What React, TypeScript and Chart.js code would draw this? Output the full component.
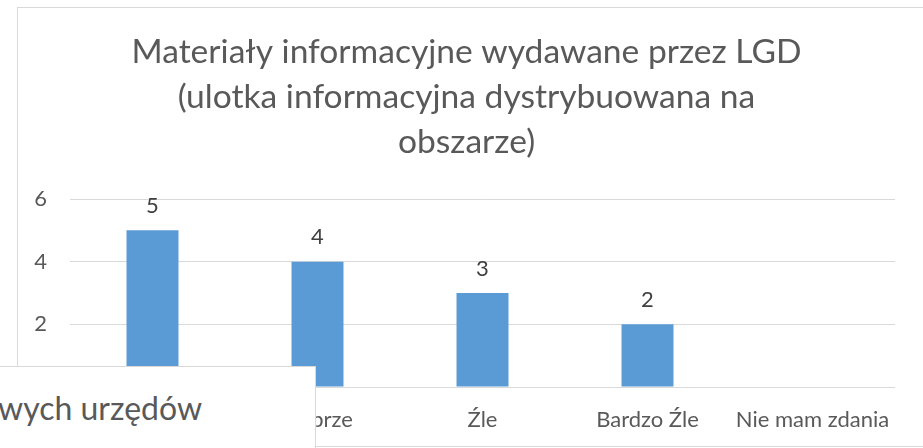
import React, { useEffect, useRef } from "react";
import { Chart, registerables } from "chart.js";

Chart.register(...registerables);

const titleLines = [
  "Materiały informacyjne wydawane przez LGD",
  "(ulotka informacyjna dystrybuowana na",
  "obszarze)",
];
const categories = ["Bardzo dobrze", "Dobrze", "Źle", "Bardzo Źle", "Nie mam zdania"];
const values = [5, 4, 3, 2, 0];
const yTicks = [0, 2, 4, 6];
const overlayText = "wych urzędów";

const FONT = "Lato, 'Open Sans', sans-serif";

const valueLabels = {
  id: "valueLabels",
  afterDatasetsDraw(chart: any) {
    const ctx = chart.ctx;
    const meta = chart.getDatasetMeta(0);
    ctx.save();
    ctx.font = `22px ${FONT}`;
    ctx.fillStyle = "#404040";
    ctx.textAlign = "center";
    ctx.textBaseline = "alphabetic";
    meta.data.forEach((bar: any, i: number) => {
      const v = values[i];
      if (!v) return;
      ctx.fillText(String(v), bar.x, bar.y - 17.5);
    });
    ctx.restore();
  },
};

export default function App() {
  const ref = useRef<HTMLCanvasElement | null>(null);

  useEffect(() => {
    document.body.style.margin = "0";
    const canvas = ref.current;
    if (!canvas) return;
    const chart = new Chart(canvas, {
      type: "bar",
      data: {
        labels: categories,
        datasets: [
          {
            data: values,
            backgroundColor: "#5b9bd5",
            borderWidth: 0,
            barPercentage: 0.315,
            categoryPercentage: 1,
          },
        ],
      },
      options: {
        responsive: false,
        animation: false,
        events: [],
        layout: { padding: { left: 38, right: 28, top: 0, bottom: 0 } },
        plugins: {
          legend: { display: false },
          tooltip: { enabled: false },
          title: {
            display: true,
            text: titleLines,
            color: "#595959",
            font: { family: FONT, size: 33.6, weight: "normal", lineHeight: 45 / 33.6 },
            padding: { top: 30, bottom: 34 },
          },
        },
        scales: {
          x: {
            grid: { display: false, drawTicks: false },
            border: { display: false },
            afterFit: (scale: any) => {
              scale.height = 61;
            },
            ticks: {
              color: "#595959",
              font: { family: FONT, size: 22 },
              padding: 20,
              maxRotation: 0,
              autoSkip: false,
            },
          },
          y: {
            min: 0,
            max: 6,
            afterBuildTicks: (scale: any) => {
              scale.ticks = yTicks.map((v) => ({ value: v }));
            },
            afterFit: (scale: any) => {
              scale.width = 32;
              scale._computeLabelArea = () => undefined;
            },
            grid: { color: "#d9d9d9", lineWidth: 1, drawTicks: false },
            border: { display: false },
            ticks: {
              color: "#595959",
              font: { family: FONT, size: 22 },
              padding: 23,
            },
          },
        },
      },
      plugins: [valueLabels],
    });
    return () => chart.destroy();
  }, []);

  return (
    <div style={{ position: "relative", width: 923, height: 448, overflow: "hidden", background: "#fff" }}>
      <div
        style={{
          position: "absolute",
          left: 17,
          top: 7,
          width: 930,
          height: 440,
          border: "1px solid #d9d9d9",
          boxSizing: "border-box",
        }}
      />
      <canvas ref={ref} width={923} height={448} style={{ position: "absolute", left: 0, top: 0 }} />
      <div
        style={{
          position: "absolute",
          left: -2,
          top: 366,
          width: 318,
          height: 100,
          background: "#fff",
          borderTop: "1px solid #d9d9d9",
          borderRight: "1px solid #d9d9d9",
          boxSizing: "border-box",
        }}
      >
        <span
          style={{
            position: "absolute",
            left: 0,
            top: 25,
            fontFamily: FONT,
            fontSize: 32,
            lineHeight: "32px",
            color: "#595959",
            whiteSpace: "nowrap",
          }}
        >
          {overlayText}
        </span>
      </div>
    </div>
  );
}
